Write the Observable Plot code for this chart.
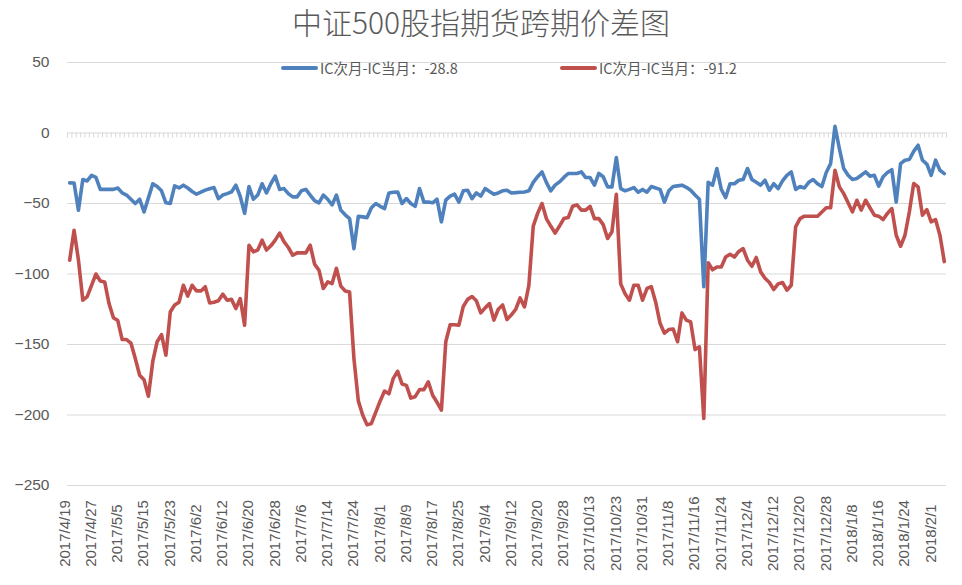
<!DOCTYPE html>
<html>
<head>
<meta charset="utf-8">
<script src="https://cdn.jsdelivr.net/npm/d3@7"></script>
<script src="https://cdn.jsdelivr.net/npm/@observablehq/plot@0.6"></script>
<style>
  body { margin: 0; background: #fff; }
  #wrap { position: relative; width: 962px; height: 585px; font-family: "Noto Sans CJK SC", "Noto Sans", sans-serif; color: #595959; }
  #title { position: absolute; left: 0; top: 4px; width: 962px; text-align: center; font-size: 30px; font-weight: 300; line-height: 34px; color: #595959; }
  .leg { position: absolute; top: 58px; display: flex; align-items: center; font-size: 14.5px; line-height: 20px; color: #595959; white-space: nowrap; }
  .sw { display: inline-block; width: 37px; height: 4px; border-radius: 2px; margin-right: 2px; }
  #chart { position: absolute; left: 0; top: 0; }
</style>
</head>
<body>
<div id="wrap">
  <div id="chart"></div>
  <div id="title"></div>
  <div id="legend"></div>
</div>
<script>
const titleText = "中证500股指期货跨期价差图";
const seriesNames = ["IC次月-IC当月：-28.8", "IC次月-IC当月：-91.2"];
const seriesColors = ["#4F81BD", "#C0504D"];
const yTicks = [50, 0, -50, -100, -150, -200, -250];
const labelStep = 6;
const xLabels = ["2017/4/19","2017/4/27","2017/5/5","2017/5/15","2017/5/23","2017/6/2","2017/6/12","2017/6/20","2017/6/28","2017/7/6","2017/7/14","2017/7/24","2017/8/1","2017/8/9","2017/8/17","2017/8/25","2017/9/4","2017/9/12","2017/9/20","2017/9/28","2017/10/13","2017/10/23","2017/10/31","2017/11/8","2017/11/16","2017/11/24","2017/12/4","2017/12/12","2017/12/20","2017/12/28","2018/1/8","2018/1/16","2018/1/24","2018/2/1"];

const blueValues = [
-35.4,-35.5,-54.7,-33,-34,-30,-31.5,-40,-40,-40,
-40,-39,-42.5,-44,-47,-50,-47,-56,-46,-36,
-38,-41,-49.5,-50,-37.5,-39,-37,-39,-41.5,-43.4,
-42,-40.5,-39.5,-38.7,-46.5,-44,-43,-41.8,-37,-45,
-57,-38,-47,-44,-36,-42.5,-36,-30.6,-40,-39.4,
-43,-45.3,-45.3,-41,-40,-44,-48,-49.5,-44,-47,
-51,-44,-54.7,-58,-60.7,-82,-59,-59.5,-60,-53,
-50,-52,-53.6,-42.5,-42,-41.8,-50,-46.5,-50,-52,
-39.4,-49,-49,-49.5,-47,-63,-47.6,-44.8,-43.4,-49,
-41,-40.6,-46.5,-42.5,-44.8,-39.4,-41.5,-43.4,-42.5,-41,
-40.6,-42.5,-42.3,-42,-41.8,-41,-35,-31,-27.6,-35,
-41,-37,-34.7,-31.5,-28.7,-28.7,-28.7,-27.6,-31.6,-31.6,
-37,-28.7,-31,-38.2,-38.2,-17.4,-39.4,-41,-40,-38.7,
-42,-40,-42,-38,-39,-40,-49,-41,-38,-37.5,
-37,-38.5,-40.6,-44,-47,-109,-35,-37,-25.2,-40,
-45.8,-36,-36,-33.5,-33,-25.2,-33,-35,-37,-33.5,
-40.6,-36,-39.4,-34,-30,-27.6,-40,-38,-39,-35,
-33,-36,-38,-28,-21.7,4.8,-11,-25.2,-30,-33,
-32.3,-30,-27.6,-30.6,-30,-37.7,-31,-28,-26,-49,
-21.7,-19.3,-18.8,-13,-8.7,-19.3,-22,-30,-19.3,-26.4,
-28.8
];

const redValues = [
-90.2,-69,-90,-118.6,-116,-108,-100,-105,-105.6,-121,
-131,-133,-146.5,-146.5,-149,-160,-171.8,-175,-186.7,-162,
-148,-143,-157.6,-127,-122,-120,-108,-115.7,-108,-112,
-112,-109,-120.5,-120,-119,-114.3,-118.6,-118,-124.5,-117.4,
-136.3,-79.6,-84.3,-83,-76,-83,-80,-76,-71,-77,
-81.2,-86.7,-85,-85,-85,-79.6,-93,-97.3,-110.3,-105.6,
-106.8,-96,-108.6,-112,-112.7,-160,-190,-200,-207,-206,
-198,-190,-183,-185,-174,-169,-178,-179,-188,-187,
-182,-182,-176.5,-186,-191,-196.6,-148,-136,-136,-136.3,
-123,-118,-116,-119,-127.6,-124,-121,-132.7,-125,-122,
-132.3,-129,-125,-117,-123.3,-108,-66,-57,-50,-60.7,
-66,-71,-66,-60.7,-60,-52,-51,-54.7,-54.7,-52,
-60.7,-60.7,-65,-74.8,-70,-43.4,-107,-114,-118.6,-108,
-108,-118.6,-110.3,-109,-120,-135,-142,-139.4,-139,-148,
-127.6,-132.7,-134,-153.6,-151.7,-202.5,-92,-97,-95,-95,
-88,-86,-88,-84,-82,-90.2,-94.5,-88.3,-98.5,-103,
-106,-111,-107,-106,-111.5,-108,-66.6,-60.7,-59,-59,
-59,-59,-56,-53,-53,-26.4,-38.2,-43,-49.5,-56,
-47.7,-54.7,-47.7,-53,-58.3,-59,-61.4,-57,-53.6,-72.5,
-80.3,-72.5,-56,-35.8,-38.2,-58.3,-54.3,-63,-61.4,-72.5,
-91.2
];

const n = blueValues.length;
const rows = d3.range(n).map(i => ({i, blue: blueValues[i], red: redValues[i]}));
const boundaries = d3.range(n + 1).map(k => k - 0.5);
const labelRows = xLabels.map((t, k) => ({x: k * labelStep, t}));

const chart = Plot.plot({
  width: 962,
  height: 585,
  marginLeft: 67,
  marginRight: 16,
  marginTop: 62,
  marginBottom: 100,
  x: {domain: [-0.5, n - 0.5], axis: null},
  y: {domain: [-250, 50], axis: null},
  style: {background: "#fff", fontFamily: "'Liberation Sans', 'Noto Sans', sans-serif"},
  marks: [
    Plot.ruleY(yTicks, {stroke: "#d9d9d9", strokeWidth: 1.2}),
    Plot.ruleX(boundaries, {x: d => d, y1: 0, y2: -3.6, stroke: "#d9d9d9", strokeWidth: 1}),
    Plot.axisY({ticks: yTicks, tickSize: 0, tickPadding: 18, fontSize: 15.5, color: "#595959", fill: "#595959"}),
    Plot.text(labelRows, {x: "x", text: "t", frameAnchor: "bottom", rotate: -90, dy: 48, fontSize: 15, fill: "#595959", textAnchor: "middle"}),
    Plot.line(rows, {x: "i", y: "red", stroke: seriesColors[1], strokeWidth: 3.6, strokeLinejoin: "round", strokeLinecap: "round"}),
    Plot.line(rows, {x: "i", y: "blue", stroke: seriesColors[0], strokeWidth: 3.6, strokeLinejoin: "round", strokeLinecap: "round"})
  ]
});
document.getElementById("chart").appendChild(chart);
document.getElementById("title").textContent = titleText;

const legendLefts = [281, 560];
const legend = document.getElementById("legend");
seriesNames.forEach((name, k) => {
  const item = document.createElement("div");
  item.className = "leg";
  item.style.left = legendLefts[k] + "px";
  const sw = document.createElement("span");
  sw.className = "sw";
  sw.style.background = seriesColors[k];
  const tx = document.createElement("span");
  tx.textContent = name;
  item.appendChild(sw);
  item.appendChild(tx);
  legend.appendChild(item);
});
</script>
</body>
</html>
